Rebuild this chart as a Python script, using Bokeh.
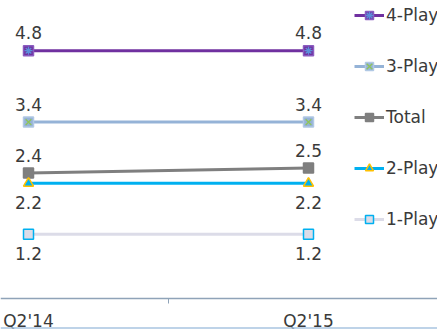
from bokeh.plotting import figure
from bokeh.models import (Range1d, FixedTicker, Legend, LegendItem,
                          ColumnDataSource, Span)
from bokeh.core.properties import value
from bokeh.embed import file_html
from bokeh.resources import INLINE

# Quarters and average products per household by bundle
quarters = ["Q2'14", "Q2'15"]
play4 = [4.8, 4.8]
play3 = [3.4, 3.4]
total = [2.4, 2.5]
play2 = [2.2, 2.2]
play1 = [1.2, 1.2]

FONT = "DejaVu Sans"
TXT = "#3a3a3a"
FS = "17px"

xs = list(range(len(quarters)))

# 51 px per unit, zero at 295 px from the top of a 329 px plot area
PPU = 51.0
ZERO = 295.0
H = 329.0

p = figure(width=437, height=329, frame_width=437, frame_height=329,
           output_backend="svg", toolbar_location=None,
           x_range=Range1d(-0.1, -0.1 + 437 / 280),
           y_range=Range1d((ZERO - H) / PPU, ZERO / PPU),
           y_axis_location=None, min_border=0)
p.outline_line_color = None
p.xgrid.visible = False
p.ygrid.visible = False
p.background_fill_color = "white"
p.border_fill_color = "white"

# category axis: labels under each quarter, one small tick between them
ax = p.xaxis[0]
ax.fixed_location = (ZERO - 298) / PPU
ax.ticker = FixedTicker(ticks=xs, minor_ticks=[0.5])
ax.major_label_overrides = {i: q for i, q in enumerate(quarters)}
ax.major_tick_out = 0
ax.major_tick_in = 0
ax.minor_tick_out = 5
ax.minor_tick_in = 0
ax.minor_tick_line_color = "#8fa3b8"
ax.axis_line_color = "#8fa3b8"
ax.axis_line_width = 1.5
ax.major_label_text_font = FONT
ax.major_label_text_font_size = FS
ax.major_label_text_color = TXT
ax.major_label_standoff = 7

# thin rule along the bottom edge
p.add_layout(Span(location=(ZERO - 327.5) / PPU, dimension="width",
                  line_color="#a9c4e0", line_width=1.5))

# name, values, line colour, marker base, marker overlay, label side
series = [
    ("4-Play", play4, "#7030a0",
     dict(marker="square", fill_color="#7030a0", line_color="#8a5cc0"),
     dict(marker="asterisk", line_color="#5b8fd9"), "above"),
    ("3-Play", play3, "#95b3d7",
     dict(marker="square", fill_color="#95b3d7", line_color="#b0c8e4"),
     dict(marker="x", line_color="#8fc45a"), "above"),
    ("Total", total, "#7f7f7f",
     dict(marker="square", fill_color="#7f7f7f", line_color="#7f7f7f"), None, "above"),
    ("2-Play", play2, "#00b0f0",
     dict(marker="triangle", fill_color="#00b0f0", line_color="#ffc000"), None, "below"),
    ("1-Play", play1, "#dcdce8",
     dict(marker="square", fill_color="#dcdce8", line_color="#00b0f0"), None, "below"),
]

items = []
for name, vals, color, mk, over, pos in series:
    src = ColumnDataSource(dict(x=xs, y=vals, lab=[f"{v:.1f}" for v in vals]))
    rends = [p.line("x", "y", source=src, line_color=color, line_width=3)]
    rends.append(p.scatter("x", "y", source=src, size=10, line_width=1.5, **mk))
    if over:
        rends.append(p.scatter("x", "y", source=src, size=8, line_width=1.3, **over))
    p.text("x", "y", text="lab", source=src, text_align="center",
           text_baseline="alphabetic", y_offset=(-18 if pos == "above" else 19),
           text_font=value(FONT), text_font_size=value(FS), text_color=TXT)
    items.append(LegendItem(label=name, renderers=rends))

legend = Legend(items=items, location=(354, 100), orientation="vertical",
                glyph_width=30, glyph_height=20, label_height=20, spacing=31,
                label_standoff=2, padding=0, margin=0,
                label_text_font=FONT, label_text_font_size=FS,
                label_text_color=TXT, border_line_color=None,
                background_fill_alpha=0)
p.add_layout(legend)

open("out.html", "w").write(file_html(p, INLINE))
